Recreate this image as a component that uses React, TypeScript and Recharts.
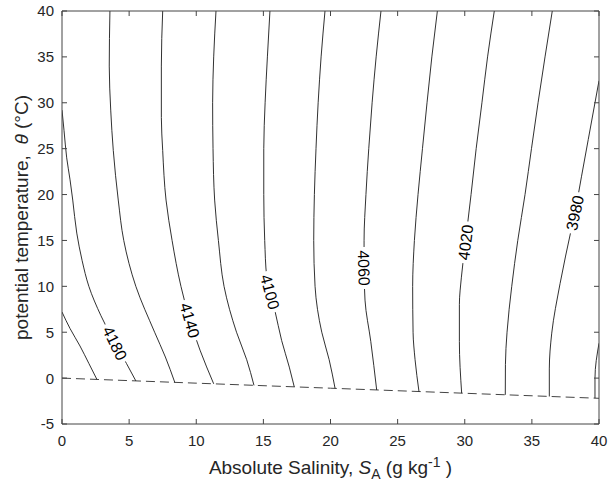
import React from 'react';
import { LineChart, Line, XAxis, YAxis } from 'recharts';

const FONT = '"Liberation Sans", Arial, Helvetica, sans-serif';

// axis ticks
const salinityTicks = [0, 5, 10, 15, 20, 25, 30, 35, 40];
const tempTicks = [-5, 0, 5, 10, 15, 20, 25, 30, 35, 40];

// contour lines of isobaric heat capacity, [S_A (g/kg), theta (degC)]
const c4200: [number, number][] = [[0, 7.2], [0.6, 5.4], [1.34, 3.5], [2.0, 1.6], [2.6, -0.14]];
const c4180: [number, number][] = [[0, 29.2], [0.15, 27], [0.35, 24], [0.6, 21.6], [0.8, 19.4], [1.1, 15.8], [1.5, 12.8], [2.0, 10], [2.9, 6.8], [3.95, 3.8], [4.8, 1.6], [5.5, -0.3]];
const c4160: [number, number][] = [[3.57, 40], [3.52, 34], [3.63, 29.2], [3.82, 24.8], [4.19, 19.4], [4.6, 15], [5.5, 10], [6.9, 5], [7.7, 2.3], [8.4, -0.46]];
const c4140: [number, number][] = [[7.5, 40], [7.4, 34], [7.4, 28.4], [7.5, 24.8], [7.75, 19.4], [8.2, 15], [8.86, 10], [9.53, 6.3], [10.28, 3.05], [11.3, -0.62]];
const c4120: [number, number][] = [[11.47, 40], [11.3, 35], [11.22, 30], [11.25, 25], [11.37, 19.4], [11.65, 15], [12.07, 10], [13.0, 5], [13.76, 2], [14.3, -0.79]];
const c4100: [number, number][] = [[15.49, 40], [15.3, 35], [15.13, 30], [15.03, 25], [15.03, 20], [15.1, 15], [15.25, 11], [15.5, 9.4], [15.85, 7.4], [16.36, 4.1], [16.93, 1.2], [17.3, -0.95]];
const c4080: [number, number][] = [[19.59, 40], [19.3, 35], [19.08, 30], [18.92, 25], [18.8, 20], [18.75, 15], [18.85, 10], [19.35, 5], [19.9, 2], [20.34, -1.12]];
const c4060: [number, number][] = [[23.76, 40], [23.4, 35], [23.1, 30], [22.85, 25], [22.64, 20], [22.5, 15], [22.5, 12], [22.57, 8.5], [23.0, 4], [23.44, -1.29]];
const c4040: [number, number][] = [[27.96, 40], [27.55, 35], [27.19, 30], [26.85, 25], [26.52, 20], [26.25, 15], [26.12, 10], [26.15, 5], [26.3, 2], [26.59, -1.46]];
const c4020: [number, number][] = [[32.2, 40], [31.7, 35], [31.28, 30], [30.85, 25], [30.47, 20], [30.05, 14.8], [29.75, 11], [29.6, 8], [29.6, 4], [29.77, -1.64]];
const c4000: [number, number][] = [[36.52, 40], [35.98, 35], [35.46, 30], [34.97, 25], [34.49, 20], [33.95, 15], [33.5, 10], [33.15, 5], [33.03, 1.5], [33.02, -1.82]];
const c3980: [number, number][] = [[40, 32.4], [39.7, 30], [39.2, 26], [38.7, 22], [38.2, 18], [37.95, 16.3], [37.1, 10.3], [36.48, 4.9], [36.3, 1], [36.3, -2.0]];
const c3960: [number, number][] = [[40, 3.8], [39.7, 0.0], [39.7, -2.18]];

const contours: [number, [number, number][]][] = [
  [4200, c4200], [4180, c4180], [4160, c4160], [4140, c4140], [4120, c4120], [4100, c4100],
  [4080, c4080], [4060, c4060], [4040, c4040], [4020, c4020], [4000, c4000], [3980, c3980], [3960, c3960],
];

// freezing line (dashed)
const freezingLine: [number, number][] = [[0, 0], [10, -0.55], [20, -1.1], [30, -1.65], [40, -2.2]];

// contour labels: level and anchor point on the line
const labelLevels = [4180, 4140, 4100, 4060, 4020, 3980];
const labelAnchors: [number, number][] = [[3.95, 3.8], [9.53, 6.3], [15.5, 9.4], [22.5, 12], [30.05, 14.8], [38.2, 18]];
const labelAngles = [64, 74, 75, 88, -83, -78];

const toPts = (arr: [number, number][]) => arr.map(([s, t]) => ({ s, t }));

const AXIS = '#444';
const TEXT = '#262626';
const TICK_LEN = 5;
const BOTTOM_GAP = 11;
const LEFT_GAP = 8;

function XTitle(props: any) {
  const vb = props && props.viewBox && props.viewBox.width ? props.viewBox : { x: 62, y: 424, width: 537, height: 73 };
  const cx = vb.x + vb.width / 2;
  const y = vb.y + 50;
  return (
    <text x={cx} y={y} textAnchor="middle" fontFamily={FONT} fontSize={19} fill={TEXT}>
      <tspan>{'Absolute Salinity, '}</tspan>
      <tspan fontStyle="italic">S</tspan>
      <tspan fontSize={14} dy={5}>A</tspan>
      <tspan dy={-5}>{' (g kg'}</tspan>
      <tspan fontSize={14} dy={-7}>-1</tspan>
      <tspan dy={7}>{' )'}</tspan>
    </text>
  );
}

function YTitle(props: any) {
  const vb = props && props.viewBox && props.viewBox.height ? props.viewBox : { x: 0, y: 11, width: 62, height: 413 };
  const cy = vb.y + vb.height / 2;
  const x = 28;
  return (
    <text transform={`translate(${x},${cy}) rotate(-90)`} textAnchor="middle" fontFamily={FONT} fontSize={19} fill={TEXT}>
      <tspan>{'potential temperature,\u00A0 '}</tspan>
      <tspan fontStyle="italic">θ</tspan>
      <tspan>{' (°C)'}</tspan>
    </text>
  );
}

const BottomTick = (p: any) => (
  <g>
    <line x1={p.x} x2={p.x} y1={p.y - BOTTOM_GAP} y2={p.y - BOTTOM_GAP - TICK_LEN} stroke={AXIS} strokeWidth={1} />
    <text x={p.x} y={p.y} dy="0.71em" textAnchor="middle" fontFamily={FONT} fontSize={15} fill={TEXT}>
      {p.payload.value}
    </text>
  </g>
);

const LeftTick = (p: any) => (
  <g>
    <line x1={p.x + LEFT_GAP} x2={p.x + LEFT_GAP + TICK_LEN} y1={p.y} y2={p.y} stroke={AXIS} strokeWidth={1} />
    <text x={p.x} y={p.y} dy="0.36em" textAnchor="end" fontFamily={FONT} fontSize={15} fill={TEXT}>
      {p.payload.value}
    </text>
  </g>
);

const TopTick = (p: any) => (
  <line x1={p.x} x2={p.x} y1={p.y} y2={p.y + TICK_LEN} stroke={AXIS} strokeWidth={1} />
);

const RightTick = (p: any) => (
  <line x1={p.x} x2={p.x - TICK_LEN} y1={p.y} y2={p.y} stroke={AXIS} strokeWidth={1} />
);

const contourLabel = (level: number, angle: number) => (p: any) => (
  <g key={`lab-${level}-${p.index}`} transform={`translate(${p.cx},${p.cy}) rotate(${angle})`}>
    <rect x={-21} y={-8} width={42} height={16} fill="#fff" />
    <text x={0} y={0} dy="0.36em" textAnchor="middle" fontFamily={FONT} fontSize={16} fill="#000">
      {level}
    </text>
  </g>
);

export default function App() {
  return (
    <div style={{ position: 'absolute', left: 0, top: 0 }}>
      <LineChart width={611} height={497} margin={{ top: 10, right: 11, left: 0, bottom: 0 }}>
        <XAxis
          xAxisId="b"
          type="number"
          dataKey="s"
          domain={[0, 40]}
          ticks={salinityTicks}
          interval={0}
          allowDataOverflow
          height={73}
          tickSize={0}
          tickMargin={BOTTOM_GAP}
          tickLine={false}
          stroke={AXIS}
          tick={<BottomTick />}
          label={<XTitle />}
        />
        <XAxis
          xAxisId="t"
          orientation="top"
          type="number"
          dataKey="s"
          domain={[0, 40]}
          ticks={salinityTicks}
          interval={0}
          allowDataOverflow
          height={1}
          tickSize={0}
          tickMargin={0}
          tickLine={false}
          stroke={AXIS}
          tick={<TopTick />}
        />
        <YAxis
          yAxisId="l"
          type="number"
          domain={[-5, 40]}
          ticks={tempTicks}
          interval={0}
          allowDataOverflow
          width={62}
          tickSize={0}
          tickMargin={LEFT_GAP}
          tickLine={false}
          stroke={AXIS}
          tick={<LeftTick />}
          label={<YTitle />}
        />
        <YAxis
          yAxisId="r"
          orientation="right"
          type="number"
          domain={[-5, 40]}
          ticks={tempTicks}
          interval={0}
          allowDataOverflow
          width={1}
          tickSize={0}
          tickMargin={0}
          tickLine={false}
          stroke={AXIS}
          tick={<RightTick />}
        />
        {/* invisible series so the mirrored top/right axes get their scales */}
        <Line
          data={toPts(freezingLine)}
          dataKey="t"
          xAxisId="t"
          yAxisId="r"
          stroke="none"
          dot={false}
          activeDot={false}
          isAnimationActive={false}
        />
        <Line
          data={toPts(freezingLine)}
          dataKey="t"
          xAxisId="b"
          yAxisId="l"
          type="linear"
          stroke="#444"
          strokeWidth={1}
          strokeDasharray="9 5"
          dot={false}
          activeDot={false}
          isAnimationActive={false}
        />
        {contours.map(([level, pts]) => (
          <Line
            key={`c${level}`}
            data={toPts(pts)}
            dataKey="t"
            xAxisId="b"
            yAxisId="l"
            type="monotoneY"
            stroke="#1a1a1a"
            strokeWidth={0.9}
            dot={false}
            activeDot={false}
            isAnimationActive={false}
          />
        ))}
        {labelLevels.map((level, i) => (
          <Line
            key={`l${level}`}
            data={toPts([labelAnchors[i]])}
            dataKey="t"
            xAxisId="b"
            yAxisId="l"
            stroke="none"
            dot={contourLabel(level, labelAngles[i])}
            activeDot={false}
            isAnimationActive={false}
          />
        ))}
      </LineChart>
    </div>
  );
}
